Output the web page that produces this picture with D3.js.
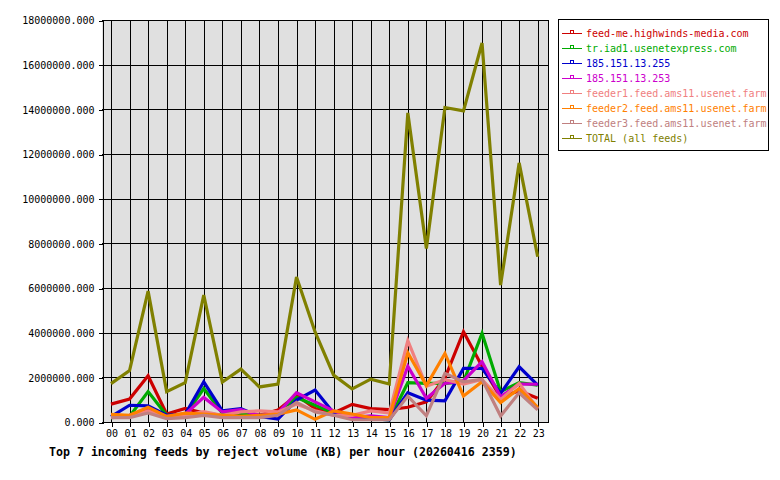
<!DOCTYPE html>
<html>
<head>
<meta charset="utf-8">
<script src="https://cdn.jsdelivr.net/npm/d3@7"></script>
<style>
  body { margin: 0; background: #fff; }
  svg { display: block; }
  text { font-family: "DejaVu Sans Mono", monospace; }
</style>
</head>
<body>
<svg id="chart" width="780" height="480"></svg>
<script>
var hours = ["00", "01", "02", "03", "04", "05", "06", "07", "08", "09", "10", "11",
  "12", "13", "14", "15", "16", "17", "18", "19", "20", "21", "22", "23"];

var feedNames = ["feed-me.highwinds-media.com", "tr.iad1.usenetexpress.com",
  "185.151.13.255", "185.151.13.253", "feeder1.feed.ams11.usenet.farm",
  "feeder2.feed.ams11.usenet.farm", "feeder3.feed.ams11.usenet.farm", "TOTAL (all feeds)"];

var feedColors = ["#cc0000", "#00aa00", "#0000cc", "#cc00cc", "#f08080", "#ff8000", "#c08080", "#808000"];

// values in KB
var feedMe = [800000, 1030000, 2070000, 360000, 610000, 400000, 300000, 350000, 300000, 540000, 1200000, 600000,
  400000, 790000, 600000, 550000, 660000, 900000, 1970000, 4040000, 2500000, 1100000, 1400000, 1060000];
var trIad1 = [200000, 250000, 1360000, 300000, 300000, 1500000, 400000, 400000, 300000, 400000, 1100000, 750000,
  400000, 150000, 150000, 100000, 1760000, 1730000, 1730000, 1800000, 3970000, 1360000, 1760000, 1650000];
var ip255 = [240000, 750000, 720000, 300000, 350000, 1800000, 500000, 600000, 250000, 130000, 980000, 1430000,
  400000, 150000, 150000, 100000, 1310000, 980000, 950000, 2400000, 2400000, 1280000, 2470000, 1650000];
var ip253 = [240000, 300000, 580000, 250000, 350000, 1100000, 450000, 550000, 300000, 400000, 1310000, 900000,
  500000, 200000, 270000, 200000, 2500000, 1060000, 1730000, 1850000, 2700000, 1130000, 1700000, 1690000];
var feeder1 = [220000, 250000, 500000, 200000, 300000, 460000, 300000, 450000, 500000, 450000, 800000, 500000,
  300000, 300000, 500000, 400000, 3640000, 1600000, 1900000, 1700000, 1900000, 1000000, 1730000, 600000];
var feeder2 = [340000, 300000, 660000, 250000, 400000, 350000, 300000, 250000, 300000, 350000, 540000, 120000,
  500000, 360000, 200000, 200000, 3100000, 1630000, 3070000, 1160000, 1800000, 870000, 1500000, 660000];
var feeder3 = [200000, 200000, 400000, 150000, 200000, 300000, 200000, 200000, 200000, 300000, 880000, 450000,
  300000, 100000, 100000, 100000, 1160000, 280000, 2180000, 1800000, 1910000, 270000, 1310000, 540000];
var total = [1720000, 2300000, 5860000, 1360000, 1760000, 5680000, 1790000, 2370000, 1570000, 1700000, 6490000, 4030000,
  2100000, 1480000, 1920000, 1700000, 13840000, 7770000, 14080000, 13930000, 16970000, 6130000, 11600000, 7400000];

var yTicks = [0, 2000000, 4000000, 6000000, 8000000, 10000000, 12000000, 14000000, 16000000, 18000000];

var seriesList = [feedMe, trIad1, ip255, ip253, feeder1, feeder2, feeder3, total];

var svg = d3.select("#chart");
var plotLeft = 102, plotRight = 548, plotTop = 20, plotBottom = 422;

var x = d3.scaleLinear().domain([0, 23]).range([111, 537.7]);
var y = d3.scaleLinear().domain([0, 18000000]).range([plotBottom, plotTop]);

svg.append("rect")
  .attr("x", plotLeft).attr("y", plotTop)
  .attr("width", plotRight - plotLeft).attr("height", plotBottom - plotTop)
  .attr("fill", "#e0e0e0");

// grid
var grid = svg.append("g").attr("stroke", "#000").attr("stroke-width", 1).attr("shape-rendering", "crispEdges");
hours.forEach(function(h, i) {
  grid.append("line").attr("x1", Math.round(x(i)) + 0.5).attr("x2", Math.round(x(i)) + 0.5)
    .attr("y1", plotTop).attr("y2", plotBottom);
});
grid.append("line").attr("x1", plotRight + 0.5).attr("x2", plotRight + 0.5)
  .attr("y1", plotTop).attr("y2", plotBottom);
yTicks.forEach(function(v) {
  grid.append("line").attr("x1", plotLeft).attr("x2", plotRight)
    .attr("y1", Math.round(y(v)) + 0.5).attr("y2", Math.round(y(v)) + 0.5);
});

// axes
var yAxis = d3.axisLeft(y).tickValues(yTicks).tickSize(4).tickPadding(4)
  .tickFormat(function(d) { return d3.format(".3f")(d); });
var gy = svg.append("g").attr("transform", "translate(" + (plotLeft + 0.5) + ",0.5)").call(yAxis);
gy.selectAll("text").attr("font-size", "10px").attr("fill", "#000").attr("font-family", "DejaVu Sans Mono");

var xAxis = d3.axisBottom(x).tickValues(d3.range(24)).tickSize(4).tickPadding(3)
  .tickFormat(function(d) { return hours[d]; });
var gx = svg.append("g").attr("transform", "translate(0.5," + (plotBottom + 0.5) + ")").call(xAxis);
gx.selectAll("text").attr("font-size", "10px").attr("fill", "#000").attr("font-family", "DejaVu Sans Mono");
gx.select(".domain").attr("d", "M" + plotLeft + ",0H" + plotRight);
svg.selectAll(".domain, .tick line").attr("stroke", "#000").attr("shape-rendering", "crispEdges");

// lines
var line = d3.line()
  .x(function(d, i) { return x(i); })
  .y(function(d) { return y(d); });

seriesList.forEach(function(s, k) {
  svg.append("path")
    .datum(s)
    .attr("d", line)
    .attr("fill", "none")
    .attr("stroke", feedColors[k])
    .attr("stroke-width", 3.2)
    .attr("stroke-linejoin", "miter");
});

// legend
var legend = svg.append("g");
legend.append("rect")
  .attr("x", 558.5).attr("y", 19.5).attr("width", 210).attr("height", 131)
  .attr("fill", "#fff").attr("stroke", "#000");
feedNames.forEach(function(name, i) {
  var ly = 32.5 + i * 15.1;
  var row = legend.append("g").attr("transform", "translate(0," + Math.round(ly) + ")");
  row.append("line").attr("x1", 562).attr("x2", 582).attr("y1", 0.5).attr("y2", 0.5)
    .attr("stroke", feedColors[i]).attr("shape-rendering", "crispEdges");
  row.append("rect").attr("x", 570.5).attr("y", -2.5).attr("width", 3).attr("height", 3)
    .attr("fill", "none").attr("stroke", feedColors[i]).attr("shape-rendering", "crispEdges");
  row.append("text").attr("x", 586).attr("y", 4)
    .attr("font-size", "10px").attr("fill", feedColors[i]).text(name);
});

svg.append("text")
  .attr("x", 49).attr("y", 456)
  .attr("font-size", "11.6px").attr("font-weight", "bold").attr("fill", "#000")
  .text("Top 7 incoming feeds by reject volume (KB) per hour (20260416 2359)");
</script>
</body>
</html>
